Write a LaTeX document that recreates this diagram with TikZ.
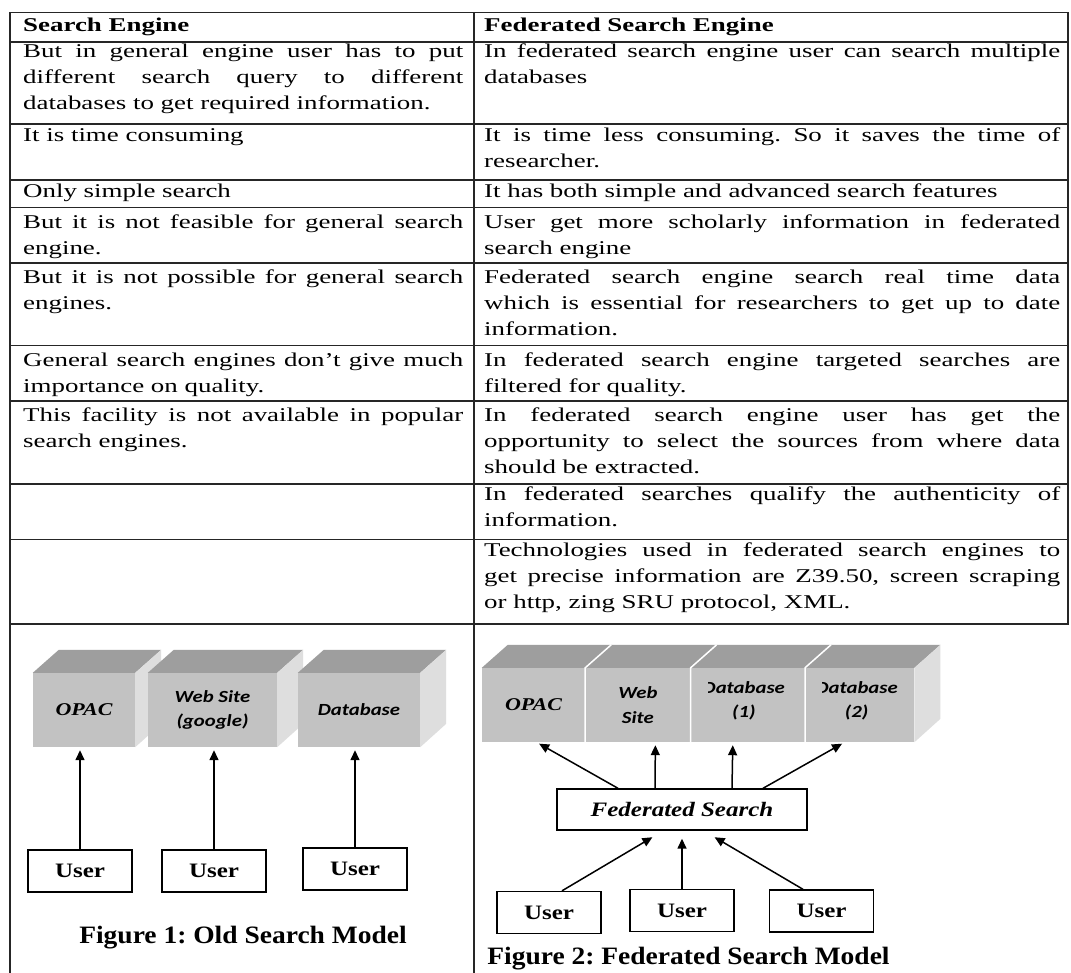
\documentclass[tikz,border=0pt]{standalone}
\usepackage{fontspec}
\setmainfont{Liberation Serif}[FakeStretch=1.38]
\newfontfamily\figfont{Liberation Serif}[FakeStretch=1.22]
\newfontfamily\capfont{Liberation Serif}[FakeStretch=1.1]
\newfontfamily\boxfont{Carlito}[FakeStretch=1.22]
\usetikzlibrary{arrows.meta,calc,positioning}

\definecolor{cubefront}{RGB}{194,194,194}
\definecolor{cubetop}{RGB}{158,158,158}
\definecolor{cubeside}{RGB}{222,222,222}

\hyphenpenalty=10000
\tolerance=9999
\frenchspacing

% top and right faces behind the front faces #1 ... #2
\newcommand\cubeback[2]{%
	\fill[cubetop] (#1.north west) -- ++(26,-23) -- ($(#2.north east)+(26,-23)$) -- (#2.north east) -- cycle;
	\fill[cubeside] (#2.north east) -- ++(26,-23) -- ++(0,74) -- (#2.south east) -- cycle;}

\begin{document}
\begin{tikzpicture}[x=1pt,y=-1pt,
	grid/.style={line width=1.6pt,line cap=rect,black!85},
	cell/.style={anchor=base west,inner sep=0pt,align=justify,font=\fontsize{19.5}{26}\selectfont},
	lcell/.style={cell,text width=440pt},
	rcell/.style={cell,text width=576pt},
	cube/.style={fill=cubefront,inner sep=0pt,minimum height=74pt,align=center},
	serifbox/.style={font=\figfont\fontsize{18}{21}\selectfont\bfseries\itshape},
	sansbox/.style={font=\boxfont\bfseries\itshape\fontsize{17}{24.5}\selectfont},
	user/.style={draw,line width=1.4pt,inner sep=0pt,minimum width=104pt,minimum height=42pt,font=\figfont\fontsize{20.5}{24}\selectfont\bfseries},
	fed/.style={draw,line width=1.4pt,inner sep=0pt,minimum width=250pt,minimum height=41pt,font=\figfont\fontsize{20.5}{24}\selectfont\bfseries\itshape},
	conn/.style={line width=1.5pt,-{Triangle[length=10pt,width=9pt]},shorten >=3pt},
	caption/.style={anchor=base,inner sep=0pt,font=\capfont\fontsize{25}{29}\selectfont\bfseries}]

	\fill[white,use as bounding box] (0,0) rectangle (1071,972);

	% table rules
	\foreach \y in {12.3,41.7,124,180,207.3,262.7,345.3,400.7,484,539.3,624}
		\draw[grid] (10,\y) -- (1068,\y);
	\draw[grid] (10,12.3) -- (10,972);
	\draw[grid] (474,12.3) -- (474,972);
	\draw[grid] (1068,12.3) -- (1068,624);

	\node[lcell] (hdl) at (23,31) {\bfseries Search Engine};
	\node[rcell] (hdr) at (484,31) {\bfseries Federated Search Engine};

	\node[lcell] (l1) at (23,57.5) {But in general engine user has to put\linebreak different search query to different\linebreak databases to get required information.};
	\node[rcell] (r1) at (484,57.5) {In federated search engine user can search multiple\linebreak databases};
	\node[lcell] (l2) at (23,141.7) {It is time consuming};
	\node[rcell] (r2) at (484,141.7) {It is time less consuming. So it saves the time of\linebreak researcher.};
	\node[lcell] (l3) at (23,197) {Only simple search};
	\node[rcell] (r3) at (484,197) {It has both simple and advanced search features};
	\node[lcell] (l4) at (23,228.3) {But it is not feasible for general search\linebreak engine.};
	\node[rcell] (r4) at (484,228.3) {User get more scholarly information in federated\linebreak search engine};
	\node[lcell] (l5) at (23,283.3) {But it is not possible for general search\linebreak engines.};
	\node[rcell] (r5) at (484,283.3) {Federated search engine search real time data\linebreak which is essential for researchers to get up to date\linebreak information.};
	\node[lcell] (l6) at (23,366.7) {General search engines don't give much\linebreak importance on quality.};
	\node[rcell] (r6) at (484,366.7) {In federated search engine targeted searches are\linebreak filtered for quality.};
	\node[lcell] (l7) at (23,421.7) {This facility is not available in popular\linebreak search engines.};
	\node[rcell] (r7) at (484,421.7) {In federated search engine user has get the\linebreak opportunity to select the sources from where data\linebreak should be extracted.};
	\node[rcell] (r8) at (484,500) {In federated searches qualify the authenticity of\linebreak information.};
	\node[rcell] (r9) at (484,556) {Technologies used in federated search engines to\linebreak get precise information are Z39.50, screen scraping\linebreak or http, zing SRU protocol, XML.};

	% old search model
	\node[cube,serifbox,minimum width=102pt] (opac1) at (84,710) {OPAC};
	\cubeback{opac1}{opac1}
	\node[cube,sansbox,minimum width=129pt] (web1) at (212.5,710) {Web Site\\(google)};
	\cubeback{web1}{web1}
	\node[cube,sansbox,minimum width=122pt] (db1) at (359,710) {Database};
	\cubeback{db1}{db1}

	\node[user] (u11) at (80,871) {User};
	\node[user] (u12) at (214,871) {User};
	\node[user] (u13) at (355,869) {User};
	\draw[conn] (u11.north) -- (u11.north |- opac1.south);
	\draw[conn] (u12.north) -- (u12.north |- web1.south);
	\draw[conn] (u13.north) -- (u13.north |- db1.south);

	\node[caption] (cap1) at (243,943) {Figure 1: Old Search Model};

	% federated search model
	\node[cube,serifbox,minimum width=103pt] (opac2) at (533.5,705) {OPAC};
	\node[cube,sansbox,minimum width=105pt,right=0pt of opac2] (web2) {Web\\Site};
	\node[cube,minimum width=114pt,right=0pt of web2] (db21) {};
	\node[cube,minimum width=109pt,right=0pt of db21] (db22) {};
	\cubeback{opac2}{db22}
	\foreach \n in {web2,db21,db22}
		\draw[white,line width=1.5pt] (\n.south west) -- (\n.north west) -- ++(26,-23);
	\begin{scope}
		\clip ([xshift=18pt]db21.south west) rectangle (db21.north east);
		\node[sansbox,align=center] (db21txt) at ([xshift=-4pt,yshift=4pt]db21.center) {Database\\(1)};
	\end{scope}
	\begin{scope}
		\clip ([xshift=17pt]db22.south west) rectangle (db22.north east);
		\node[sansbox,align=center] (db22txt) at ([xshift=-3pt,yshift=4pt]db22.center) {Database\\(2)};
	\end{scope}

	\node[fed] (fs) at (682,809.5) {Federated Search};
	\draw[conn] ([xshift=-64pt]fs.north) -- ([xshift=3pt]opac2.south);
	\draw[conn] ([xshift=-27pt]fs.north) -- ([xshift=17.5pt]web2.south);
	\draw[conn] ([xshift=50pt]fs.north) -- ([xshift=-15pt]db21.south);
	\draw[conn] ([xshift=81pt]fs.north) -- ([xshift=-15pt]db22.south);

	\node[user] (u21) at (549,912.5) {User};
	\node[user] (u22) at (682,910.5) {User};
	\node[user] (u23) at (821.5,911) {User};
	\draw[conn] ([xshift=13pt]u21.north) -- ([xshift=-27pt,yshift=-5pt]fs.south);
	\draw[conn] (u22.north) -- ([yshift=-5pt]fs.south);
	\draw[conn] ([xshift=-18.5pt]u23.north) -- ([xshift=30pt,yshift=-5pt]fs.south);

	\node[caption] (cap2) at (688.5,964) {Figure 2: Federated Search Model};
\end{tikzpicture}
\end{document}
